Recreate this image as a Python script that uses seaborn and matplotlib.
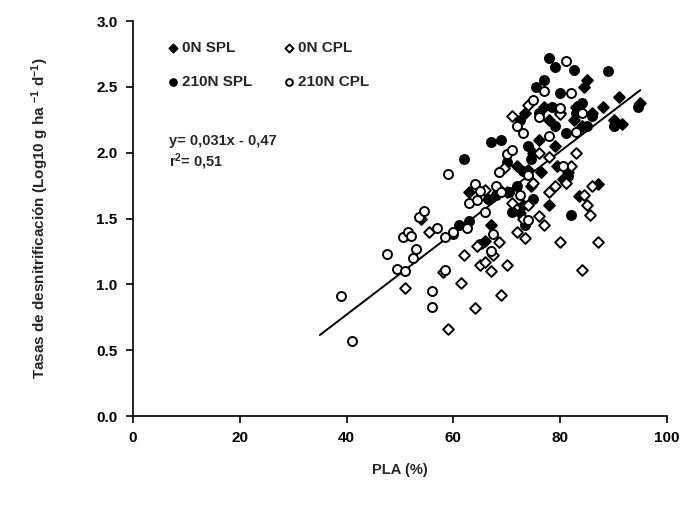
import numpy as np
import pandas as pd
import matplotlib
matplotlib.use("Agg")
import matplotlib.pyplot as plt
import seaborn as sns

# 0N SPL (filled diamonds)
spl0_x = [54, 63, 66, 67, 69, 70, 72.5, 73, 74.5, 75, 76, 76.5, 77, 78, 79, 80, 80.5, 81.5,
          83, 84, 84.5, 85, 86, 87, 88, 90, 91, 91.5, 95, 74, 72, 73.5, 78, 79.5, 82.5, 83.5]
spl0_y = [1.50, 1.70, 1.33, 1.45, 1.71, 1.70, 1.54, 1.60, 1.75, 2.00, 2.10, 1.85, 2.35, 2.25,
          2.05, 2.30, 1.80, 1.85, 2.35, 2.20, 2.50, 2.55, 2.30, 1.76, 2.35, 2.25, 2.42, 2.22,
          2.38, 1.87, 1.90, 2.30, 1.60, 1.90, 2.25, 1.67]

# 0N CPL (open diamonds)
cpl0_x = [51, 55.5, 58, 59, 61.5, 62, 64, 64.5, 65, 66, 67, 67.5, 68.5, 69, 70, 71, 72, 73,
          73.5, 74, 75, 76, 77, 78, 79, 80, 81, 82, 83, 84, 85, 85.5, 86, 87, 71, 74, 76, 78,
          80, 84.5, 66, 69.5]
cpl0_y = [0.97, 1.40, 1.09, 0.66, 1.01, 1.22, 0.82, 1.29, 1.15, 1.17, 1.10, 1.22, 1.32, 0.92,
          1.15, 1.62, 1.40, 1.50, 1.35, 1.60, 1.77, 1.52, 1.45, 1.70, 1.75, 1.32, 1.77, 1.90,
          2.00, 1.11, 1.60, 1.53, 1.75, 1.32, 2.28, 2.36, 2.00, 1.97, 2.29, 1.68, 1.72, 1.88]

# 210N SPL (filled circles)
spl210_x = [62, 61, 60, 63, 65, 66.5, 67, 68, 69, 70, 71, 72, 72.5, 73, 74, 75, 75.5, 76, 77,
            78, 78.5, 79, 80, 81, 82, 82.5, 83, 84, 85, 86, 89, 90, 94.5, 81.5, 79, 70.5, 73.5,
            74.5]
spl210_y = [1.95, 1.45, 1.38, 1.48, 1.31, 1.65, 2.08, 1.68, 2.10, 1.93, 1.55, 1.75, 2.25, 1.86,
            2.05, 1.65, 2.50, 2.30, 2.55, 2.72, 2.35, 2.65, 2.45, 2.15, 1.53, 2.63, 2.30, 2.38,
            2.20, 2.28, 2.62, 2.20, 2.35, 1.82, 2.20, 1.70, 1.45, 1.95]

# 210N CPL (open circles)
cpl210_x = [39, 41, 47.5, 49.5, 50.5, 51, 51.5, 52, 52.5, 53, 53.5, 54.5, 56, 56, 57, 58.5, 58.5,
            59, 60, 62.5, 63, 64, 64.5, 65, 66, 67, 67.5, 68, 68.5, 69, 70, 71, 72, 73, 74, 75,
            76, 77, 78, 80, 81, 82, 84, 72.5, 74, 80.5, 83]
cpl210_y = [0.91, 0.57, 1.23, 1.12, 1.36, 1.10, 1.40, 1.37, 1.20, 1.27, 1.51, 1.56, 0.95, 0.83,
            1.43, 1.11, 1.36, 1.84, 1.40, 1.43, 1.62, 1.76, 1.64, 1.71, 1.55, 1.25, 1.38, 1.75,
            1.85, 1.70, 1.99, 2.02, 2.20, 2.15, 1.83, 2.40, 2.27, 2.47, 2.13, 2.34, 2.70, 2.45,
            2.30, 1.68, 1.49, 1.90, 2.16]

# fitted line y = 0.031x - 0.47
line_x = [35, 95]
slope, intercept = 0.031, -0.47

sns.set_theme(style="ticks")
plt.rcParams["font.family"] = ["Liberation Sans", "DejaVu Sans"]
plt.rcParams["font.weight"] = "bold"
plt.rcParams["mathtext.fontset"] = "custom"
plt.rcParams["mathtext.rm"] = "Liberation Sans:bold"
plt.rcParams["mathtext.bf"] = "Liberation Sans:bold"
plt.rcParams["mathtext.default"] = "bf"

fig = plt.figure(figsize=(6.84, 5.05), dpi=100)
ax = fig.add_axes([0.1944, 0.1762, 0.7807, 0.7822])

groups = [
    ("0N SPL", spl0_x, spl0_y, "D", "black", 30),
    ("210N SPL", spl210_x, spl210_y, "o", "black", 42),
    ("0N CPL", cpl0_x, cpl0_y, "D", "white", 30),
    ("210N CPL", cpl210_x, cpl210_y, "o", "white", 42),
]
for name, xs, ys, mk, fc, sz in groups:
    d = pd.DataFrame({"x": xs, "y": ys})
    sns.scatterplot(data=d, x="x", y="y", marker=mk, color=fc, edgecolor="black",
                    linewidth=1.4, s=sz, label=name, ax=ax, zorder=3)

lx = np.array(line_x)
sns.lineplot(x=lx, y=slope * lx + intercept, color="black", linewidth=1.4, ax=ax,
             legend=False, zorder=2)

ax.set_xlim(0, 100)
ax.set_ylim(0, 3.0)
ax.set_xticks([0, 20, 40, 60, 80, 100])
ax.set_yticks(np.arange(0, 3.01, 0.5))
ax.set_yticklabels([f"{v:.1f}" for v in np.arange(0, 3.01, 0.5)])
ax.tick_params(direction="out", length=5, width=1.2, labelsize=11, pad=6, colors="black")
for lab in ax.get_xticklabels() + ax.get_yticklabels():
    lab.set_fontweight("bold")
sns.despine(ax=ax)
for sp in ["left", "bottom"]:
    ax.spines[sp].set_linewidth(1.2)
    ax.spines[sp].set_color("black")

ax.set_xlabel("PLA (%)", fontsize=10.5, fontweight="bold", labelpad=13)
ax.set_ylabel("Tasas de desnitrificación (Log10 g ha $^{-1}$ d$^{-1}$)", fontsize=11,
              fontweight="bold", labelpad=33)

leg = ax.legend(ncol=2, loc="upper left", bbox_to_anchor=(0.035, 0.985), frameon=False,
                handletextpad=0.1, columnspacing=1.9, labelspacing=1.3, handlelength=1.0,
                markerscale=0.75, prop={"weight": "bold", "size": 11})

ax.text(0.068, 0.687, "y= 0,031x - 0,47", transform=ax.transAxes, fontsize=10.5,
        fontweight="bold")
ax.text(0.068, 0.632, "r$^{2}$= 0,51", transform=ax.transAxes, fontsize=10.5,
        fontweight="bold")

fig.savefig("out.png", dpi=100)
